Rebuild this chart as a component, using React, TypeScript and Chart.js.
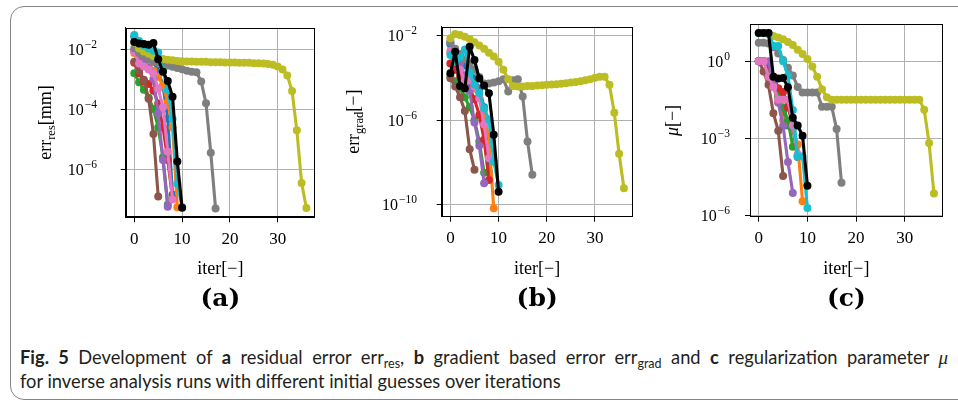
import React, { useEffect, useRef } from "react";
import { Chart, registerables } from "chart.js";

Chart.register(...registerables);

const PAGE_W = 958;
const CANVAS_H = 320;

// shared iteration axis
const ITER_TICKS = [0, 10, 20, 30];
const ITER_MIN = -1.8;
const ITER_MAX = 37.8;

// one colour per inverse-analysis run (initial guess)
const RUN_COLORS = [
  "#1f77b4", "#ff7f0e", "#2ca02c", "#d62728", "#9467bd", "#8c564b",
  "#e377c2", "#7f7f7f", "#bcbd22", "#17becf", "#000000",
];

// (a) residual error err_res [mm]
const resBlue = [2.8e-2, 1.6e-2, 1.0e-2, 6.3e-3, 4.0e-3, 2.0e-3, 6.3e-4, 5.0e-5, 1.4e-7];
const resOrange = [7.9e-3, 5.4e-3, 4.0e-3, 2.8e-3, 2.0e-3, 1.26e-3, 6.3e-4, 1.8e-4, 2.5e-5, 5.2e-8];
const resGreen = [1.66e-3, 8.3e-4, 4.6e-4, 2.5e-4, 1.05e-4, 2.5e-5, 2.5e-6, 6.3e-8];
const resRed = [3.7e-3, 1.66e-3, 8.7e-4, 7.2e-4, 4.3e-4, 1.6e-4, 2.5e-5, 2.0e-6, 1.0e-7];
const resPurple = [1.0e-2, 6.3e-3, 4.0e-3, 2.5e-3, 1.07e-3, 7.4e-5, 2.0e-6, 5.4e-8];
const resBrown = [4.0e-3, 2.0e-3, 1.0e-3, 2.3e-4, 1.5e-5, 1.2e-7];
const resPink = [8.9e-3, 3.5e-3, 2.8e-3, 2.2e-3, 1.6e-3, 5.0e-4, 1.2e-4, 3.8e-6, 9.5e-8];
const resGray = [
  1.12e-2, 7.9e-3, 6.3e-3, 5.0e-3, 4.2e-3, 3.7e-3, 3.3e-3, 3.0e-3, 2.75e-3, 2.5e-3,
  2.24e-3, 2.0e-3, 1.86e-3, 1.78e-3, 8.7e-4, 1.62e-4, 3.5e-6, 4.7e-8,
];
const resOlive = [
  1.78e-2, 1.12e-2, 8.9e-3, 7.4e-3, 6.3e-3, 5.6e-3, 5.0e-3, 4.7e-3, 4.5e-3, 4.3e-3,
  4.2e-3, 4.1e-3, 4.1e-3, 4.0e-3, 4.0e-3, 4.0e-3, 3.9e-3, 3.9e-3, 3.9e-3, 3.8e-3,
  3.8e-3, 3.8e-3, 3.7e-3, 3.7e-3, 3.7e-3, 3.6e-3, 3.6e-3, 3.5e-3, 3.4e-3, 3.2e-3,
  2.8e-3, 2.2e-3, 1.4e-3, 4.2e-4, 2.0e-5, 3.4e-7, 4.9e-8,
];
const resCyan = [3.2e-2, 2.0e-2, 1.4e-2, 1.12e-2, 9.5e-3, 8.3e-3, 2.0e-3, 4.5e-4, 4.8e-5, 3.2e-7, 5.2e-8];
const resBlack = [1.86e-2, 1.66e-2, 1.58e-2, 1.5e-2, 1.7e-2, 4.9e-3, 1.86e-3, 9.1e-4, 2.7e-4, 1.8e-6, 5.0e-8];

// (b) gradient based error err_grad [-]
const gradBlue = [4.0e-3, 1.6e-3, 7.9e-4, 4.0e-4, 2.0e-4, 1.0e-4, 3.2e-5, 4.2e-6, 3.7e-9];
const gradOrange = [1.6e-3, 5.0e-4, 2.5e-4, 1.26e-4, 6.3e-5, 3.2e-5, 1.26e-5, 3.2e-6, 1.2e-7, 6.8e-11];
const gradGreen = [1.26e-4, 7.1e-5, 3.2e-5, 1.26e-5, 4.2e-6, 1.0e-6, 1.0e-7, 3.3e-9];
const gradRed = [5.0e-4, 2.5e-4, 1.26e-4, 6.3e-5, 3.2e-5, 1.0e-5, 1.8e-6, 1.2e-7, 1.5e-9];
const gradPurple = [5.0e-3, 1.6e-3, 5.0e-4, 1.26e-4, 2.5e-5, 7.9e-7, 6.3e-8, 1.05e-9];
const gradBrown = [1.0e-4, 4.0e-5, 1.26e-5, 2.8e-6, 4.3e-8, 4.5e-9];
const gradPink = [2.0e-3, 6.3e-4, 2.5e-4, 7.9e-5, 7.9e-5, 4.0e-5, 1.1e-5, 6.3e-7, 1.6e-8];
const gradGray = [
  5.0e-3, 2.5e-3, 1.4e-3, 7.9e-4, 4.5e-4, 2.5e-4, 1.12e-4, 5.6e-5, 5.6e-5, 6.3e-5,
  7.1e-5, 8.9e-5, 2.3e-5, 7.9e-5, 8.9e-5, 1.35e-5, 1.0e-7, 2.6e-9,
];
const gradOlive = [
  7.9e-3, 1.23e-2, 1.12e-2, 9.3e-3, 7.2e-3, 5.0e-3, 3.5e-3, 2.5e-3, 1.6e-3, 1.05e-3,
  6.0e-4, 2.5e-4, 8.9e-5, 4.3e-5, 4.0e-5, 4.0e-5, 4.2e-5, 4.3e-5, 4.5e-5, 4.6e-5,
  4.8e-5, 5.0e-5, 5.2e-5, 5.5e-5, 5.8e-5, 6.2e-5, 6.6e-5, 7.1e-5, 7.9e-5, 8.9e-5,
  1.05e-4, 1.15e-4, 1.15e-4, 4.8e-5, 2.3e-6, 2.6e-8, 6.0e-10,
];
const gradCyan = [1.26e-3, 6.3e-4, 1.0e-3, 2.3e-3, 1.8e-4, 5.0e-5, 2.0e-5, 3.7e-6, 1.12e-6, 1.1e-8, 8.7e-10];
const gradBlack = [1.7e-4, 1.8e-3, 4.3e-5, 3.2e-5, 3.1e-3, 7.2e-4, 9.5e-5, 4.5e-5, 1.9e-5, 2.1e-7, 4.1e-10];

// (c) regularization parameter mu [-]
const muBlue = [1, 1, 0.5, 0.16, 0.04, 0.01, 3.2e-3, 2.5e-3, 1.9e-4];
const muOrange = [1, 1, 0.4, 0.1, 0.025, 5.0e-3, 4.0e-3, 2.5e-3, 5.8e-4, 3.6e-6];
const muGreen = [1, 1, 0.54, 0.16, 0.05, 0.016, 5.0e-3, 4.7e-4];
const muRed = [1, 1, 0.63, 0.25, 0.089, 0.063, 0.016, 3.4e-3, 2.1e-4];
const muPurple = [1, 1, 1, 0.126, 0.025, 3.0e-3, 1.2e-4, 7.6e-6];
const muBrown = [1, 0.4, 0.12, 9.5e-3, 2.0e-3, 3.5e-5];
const muPink = [1, 1, 0.25, 0.1, 0.032, 0.032, 0.032, 3.2e-3, 2.5e-4];
const muGray = [
  5.2, 5.2, 4.8, 3.5, 2.0, 1.12, 0.56, 0.28, 0.1, 0.06,
  0.06, 0.06, 0.06, 0.017, 0.017, 0.017, 2.3e-3, 1.9e-5,
];
const muOlive = [
  12.3, 12.0, 11.0, 9.5, 8.3, 7.1, 5.6, 4.2, 2.8, 1.9,
  1.2, 0.62, 0.25, 0.081, 0.04, 0.032, 0.032, 0.032, 0.032, 0.032,
  0.032, 0.032, 0.032, 0.032, 0.032, 0.032, 0.032, 0.032, 0.032, 0.032,
  0.032, 0.032, 0.032, 0.032, 0.013, 6.6e-4, 7.2e-6,
];
const muCyan = [12.3, 12.3, 12.3, 4.0, 3.9, 1.0, 0.27, 0.0126, 2.0e-4, 2.0e-4, 2.0e-6];
const muBlack = [12.3, 12.3, 12.3, 0.25, 0.21, 0.22, 0.098, 6.3e-3, 3.2e-3, 1.26e-3, 1.45e-5];

// y axis ticks and their exponent labels
const RES_TICKS = [1e-2, 1e-4, 1e-6];
const RES_TICK_EXP = ["\u22122", "\u22124", "\u22126"];
const GRAD_TICKS = [1e-2, 1e-6, 1e-10];
const GRAD_TICK_EXP = ["\u22122", "\u22126", "\u221210"];
const MU_TICKS = [1, 1e-3, 1e-6];
const MU_TICK_EXP = ["0", "\u22123", "\u22126"];

const SERIF = "'Liberation Serif', 'DejaVu Serif', serif";

type Part = { text: string; font: string; dy?: number };

type PanelSpec = {
  runs: number[][];
  yMin: number;
  yMax: number;
  yTicks: number[];
  yExp: string[];
  box: { l: number; t: number; r: number; b: number };
  yLabelRight: number;
  yTitle: Part[];
  yTitleX: number;
  letter: string;
};

const MAIN = `18px ${SERIF}`;
const SUB = `12.5px ${SERIF}`;

const PANELS: PanelSpec[] = [
  {
    runs: [resBlue, resOrange, resGreen, resRed, resPurple, resBrown, resPink, resGray, resOlive, resCyan, resBlack],
    yMin: 2.4e-8,
    yMax: 5.6e-2,
    yTicks: RES_TICKS,
    yExp: RES_TICK_EXP,
    box: { l: 125.7, t: 27.7, r: 315, b: 217.3 },
    yLabelRight: 97,
    yTitle: [
      { text: "err", font: MAIN },
      { text: "res", font: SUB, dy: 4 },
      { text: "[mm]", font: MAIN },
    ],
    yTitleX: 46,
    letter: "(a)",
  },
  {
    runs: [gradBlue, gradOrange, gradGreen, gradRed, gradPurple, gradBrown, gradPink, gradGray, gradOlive, gradCyan, gradBlack],
    yMin: 2.7e-11,
    yMax: 2.75e-2,
    yTicks: GRAD_TICKS,
    yExp: GRAD_TICK_EXP,
    box: { l: 441.7, t: 26.7, r: 632.6, b: 216.7 },
    yLabelRight: 417,
    yTitle: [
      { text: "err", font: MAIN },
      { text: "grad", font: SUB, dy: 4 },
      { text: "[\u2212]", font: MAIN },
    ],
    yTitleX: 354,
    letter: "(b)",
  },
  {
    runs: [muBlue, muOrange, muGreen, muRed, muPurple, muBrown, muPink, muGray, muOlive, muCyan, muBlack],
    yMin: 9.1e-7,
    yMax: 27,
    yTicks: MU_TICKS,
    yExp: MU_TICK_EXP,
    box: { l: 750, t: 24.3, r: 942.7, b: 216.7 },
    yLabelRight: 730,
    yTitle: [
      { text: "\u03bc", font: `italic 18px ${SERIF}` },
      { text: "[\u2212]", font: MAIN },
    ],
    yTitleX: 673,
    letter: "(c)",
  },
];

const Y_AXIS_W = 10;
const X_AXIS_H = 40;

function drawParts(ctx: CanvasRenderingContext2D, parts: Part[], cx: number, baseline: number) {
  let total = 0;
  for (const p of parts) {
    ctx.font = p.font;
    total += ctx.measureText(p.text).width;
  }
  let x = cx - total / 2;
  for (const p of parts) {
    ctx.font = p.font;
    ctx.fillText(p.text, x, baseline + (p.dy || 0));
    x += ctx.measureText(p.text).width;
  }
}

function makeDecor(spec: PanelSpec) {
  return {
    id: "panelDecor",
    afterDatasetsDraw(chart: any) {
      const { ctx, chartArea: a } = chart;
      ctx.save();
      ctx.strokeStyle = "#000";
      ctx.lineWidth = 1;
      const l = Math.round(a.left) + 0.5;
      const t = Math.round(a.top) + 0.5;
      const r = Math.round(a.right) - 0.5;
      const b = Math.round(a.bottom) - 0.5;
      ctx.strokeRect(l, t, r - l, b - t);
      ctx.restore();
    },
    afterDraw(chart: any) {
      const { ctx, chartArea: a } = chart;
      const yScale = chart.scales.y;
      ctx.save();
      ctx.fillStyle = "#000";
      ctx.textBaseline = "alphabetic";
      ctx.textAlign = "left";

      // y tick labels as powers of ten
      spec.yTicks.forEach((v, i) => {
        const py = yScale.getPixelForValue(v);
        const exp = spec.yExp[i];
        ctx.font = `16px ${SERIF}`;
        const wBase = ctx.measureText("10").width;
        ctx.font = `11.5px ${SERIF}`;
        const wExp = ctx.measureText(exp).width;
        const x0 = spec.yLabelRight - wBase - wExp - 1;
        ctx.font = `16px ${SERIF}`;
        ctx.fillText("10", x0, py + 5.5);
        ctx.font = `11.5px ${SERIF}`;
        ctx.fillText(exp, x0 + wBase + 1, py - 1.5);
      });

      // y axis title
      ctx.save();
      ctx.translate(spec.yTitleX, (a.top + a.bottom) / 2);
      ctx.rotate(-Math.PI / 2);
      drawParts(ctx, spec.yTitle, 0, 5);
      ctx.restore();

      const cx = (a.left + a.right) / 2;
      // x axis title
      drawParts(ctx, [{ text: "iter[\u2212]", font: MAIN }], cx, 274);
      // panel letter
      drawParts(ctx, [{ text: spec.letter, font: "bold 25px 'DejaVu Serif', serif" }], cx, 306);
      ctx.restore();
    },
  };
}

function Panel({ spec }: { spec: PanelSpec }) {
  const ref = useRef<HTMLCanvasElement | null>(null);

  useEffect(() => {
    if (!ref.current) return;
    const n = spec.runs.length;
    const chart = new Chart(ref.current, {
      type: "line",
      data: {
        datasets: spec.runs.map((vals, i) => ({
          data: vals.map((v, k) => ({ x: k, y: v })),
          borderColor: RUN_COLORS[i],
          backgroundColor: RUN_COLORS[i],
          pointBackgroundColor: RUN_COLORS[i],
          pointBorderColor: RUN_COLORS[i],
          pointBorderWidth: 0,
          pointRadius: 4,
          borderWidth: 3.1,
          borderJoinStyle: "round",
          tension: 0,
          fill: false,
          order: n - i,
        })),
      },
      options: {
        responsive: false,
        animation: false,
        devicePixelRatio: 1,
        events: [],
        layout: {
          padding: {
            left: spec.box.l - Y_AXIS_W,
            right: PAGE_W - spec.box.r,
            top: spec.box.t,
            bottom: CANVAS_H - spec.box.b - X_AXIS_H,
          },
        },
        plugins: { legend: { display: false }, tooltip: { enabled: false } },
        scales: {
          x: {
            type: "linear",
            min: ITER_MIN,
            max: ITER_MAX,
            afterBuildTicks: (s: any) => {
              s.ticks = ITER_TICKS.map((v) => ({ value: v }));
            },
            afterFit: (s: any) => {
              s.height = X_AXIS_H;
            },
            grid: { color: "#b0b0b0", lineWidth: 1, tickColor: "#000", tickLength: 5 },
            border: { color: "#000", width: 1 },
            ticks: {
              color: "#000",
              font: { family: SERIF, size: 17 },
              padding: 7,
              maxRotation: 0,
              autoSkip: false,
            },
          },
          y: {
            type: "logarithmic",
            min: spec.yMin,
            max: spec.yMax,
            afterBuildTicks: (s: any) => {
              s.ticks = spec.yTicks.map((v) => ({ value: v }));
            },
            afterFit: (s: any) => {
              s.width = Y_AXIS_W;
            },
            grid: { color: "#b0b0b0", lineWidth: 1, tickColor: "#000", tickLength: 5 },
            border: { color: "#000", width: 1 },
            ticks: { display: false },
          },
        },
      },
      plugins: [makeDecor(spec)],
    } as any);
    return () => chart.destroy();
  }, [spec]);

  return (
    <canvas
      ref={ref}
      width={PAGE_W}
      height={CANVAS_H}
      style={{ position: "absolute", left: 0, top: 0, width: PAGE_W, height: CANVAS_H }}
    />
  );
}

const capBase: React.CSSProperties = {
  position: "absolute",
  left: 20,
  fontFamily: "Lato, 'Noto Sans', sans-serif",
  fontSize: 18.3,
  lineHeight: "24px",
  color: "#231f20",
  whiteSpace: "nowrap",
};

const subStyle: React.CSSProperties = { fontSize: 12.5, verticalAlign: -3.5, lineHeight: 0 };

export default function App() {
  return (
    <div
      style={{
        position: "fixed",
        left: 0,
        top: 0,
        width: PAGE_W,
        height: 405,
        background: "#fff",
        overflow: "hidden",
      }}
    >
      <div
        style={{
          position: "absolute",
          left: 10,
          top: 6,
          width: 980,
          height: 394,
          border: "1.5px solid #858585",
          borderRadius: 14,
          boxSizing: "border-box",
        }}
      />
      {PANELS.map((p) => (
        <Panel key={p.letter} spec={p} />
      ))}
      <div
        style={{
          ...capBase,
          top: 345,
          width: 928,
          whiteSpace: "normal",
          textAlign: "justify",
          textAlignLast: "justify",
        }}
      >
        <b>Fig. 5</b> Development of <b>a</b> residual error err
        <span style={subStyle}>res</span>, <b>b</b> gradient based error err
        <span style={subStyle}>grad</span> and <b>c</b> regularization parameter{" "}
        <i style={{ fontFamily: "'Liberation Serif', serif", fontSize: 19 }}>{"\u03bc"}</i>
      </div>
      <div style={{ ...capBase, top: 369 }}>
        for inverse analysis runs with different initial guesses over iterations
      </div>
    </div>
  );
}
